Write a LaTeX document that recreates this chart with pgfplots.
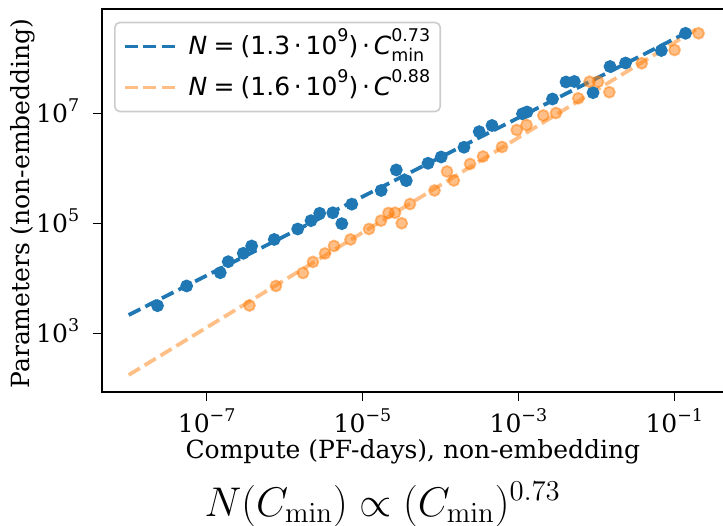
\documentclass[border=0pt]{standalone}
\usepackage[no-math]{fontspec}
\usepackage{pgfplots}
\pgfplotsset{compat=1.18}
\setmainfont{DejaVu Serif}
\newfontfamily\dvs{DejaVu Sans}
\definecolor{mblue}{HTML}{1F77B4}
\definecolor{morange}{HTML}{FF7F0E}
\newcommand{\tl}[1]{10\raisebox{0.45em}{\fontsize{8.75}{9}\selectfont #1}}
\newcommand{\sups}[1]{\raisebox{0.5em}{\fontsize{8.75}{9}\selectfont #1}}
\newcommand{\supsub}[2]{\raisebox{-0.3em}{\rlap{\fontsize{8.75}{9}\selectfont #2}}\raisebox{0.5em}{\fontsize{8.75}{9}\selectfont #1}}
\pgfplotstableread{
C N
2.34e-8 3.20e3
5.54e-8 7.31e3
1.494e-7 1.274e4
1.89e-7 2.02e4
2.95e-7 2.87e4
3.78e-7 3.90e4
7.37e-7 5.12e4
1.471e-6 7.94e4
2.18e-6 1.125e5
2.82e-6 1.532e5
4.15e-6 1.566e5
5.42e-6 9.92e4
7.28e-6 2.244e5
1.733e-5 3.98e5
2.71e-5 9.40e5
3.64e-5 6.00e5
6.92e-5 1.243e6
1.021e-4 1.618e6
2.002e-4 2.43e6
3.138e-4 4.67e6
4.58e-4 6.05e6
1.127e-3 9.87e6
1.288e-3 1.065e7
2.735e-3 1.835e7
4.08e-3 3.74e7
5.21e-3 3.82e7
9.06e-3 2.39e7
1.496e-2 7.15e7
2.366e-2 8.28e7
6.82e-2 1.397e8
0.1393 2.87e8
}\blue
\pgfplotstableread{
C N
3.54e-7 3.23e3
7.74e-7 7.31e3
1.72e-6 1.259e4
2.31e-6 2.0e4
3.30e-6 2.85e4
4.30e-6 3.90e4
7.00e-6 5.12e4
1.21e-5 7.94e4
1.724e-5 1.125e5
2.15e-5 1.552e5
2.61e-5 1.57e5
3.18e-5 1.009e5
4.06e-5 2.26e5
8.38e-5 3.98e5
1.212e-4 8.82e5
1.482e-4 6.05e5
2.392e-4 1.208e6
3.51e-4 1.652e6
6.15e-4 2.46e6
9.51e-4 5.01e6
1.27e-3 6.18e6
2.084e-3 9.2e6
3.03e-3 1.021e7
5.86e-3 1.89e7
8.17e-3 3.78e7
1.05e-2 3.78e7
1.466e-2 2.44e7
3.82e-2 8.18e7
0.1007 1.427e8
0.2047 2.87e8
}\orange
\begin{document}
\begin{tikzpicture}
\begin{axis}[
  name=ax, at={(0pt,0pt)}, anchor=south west,
  scale only axis, width=312.65pt, height=191.5pt,
  xmode=log, ymode=log,
  xmin=4.5e-9, xmax=0.474, ymin=86.3, ymax=7.94e8,
  xtick={1e-7,1e-5,1e-3,1e-1},
  xticklabels={\tl{−7},\tl{−5},\tl{−3},\tl{−1}},
  ytick={1e3,1e5,1e7},
  yticklabels={\tl{3},\tl{5},\tl{7}},
  xminorticks=false, yminorticks=false,
  tick pos=left, tick align=outside,
  major tick length=4.375pt,
  every tick/.style={black, line width=0.8pt},
  axis line style={black, line width=1pt},
  xticklabel style={font=\fontsize{12.5}{15}\selectfont, anchor=base, yshift=-16pt},
  yticklabel style={font=\fontsize{12.5}{15}\selectfont, anchor=base east, inner sep=0pt, yshift=-4.56pt, xshift=-6.7pt},
  legend style={at={(0.0197,0.9668)}, anchor=north west, draw=black!20, line width=0.8pt,
    rounded corners=2.5pt, fill=white, fill opacity=0.8, text opacity=1, draw opacity=1,
    font=\dvs\fontsize{12.5}{15}\selectfont, inner xsep=4pt, inner ysep=1.75pt, row sep=0pt, column sep=5pt,
    nodes={inner sep=1pt, text height=13pt, text depth=5.5pt}},
  legend cell align=left,
  legend image code/.code={\draw[#1] (0pt,0pt) -- (25pt,0pt);},
]
\addplot[only marks, mark=*, mark size=2.75pt, mark options={fill=mblue, draw=mblue, line width=0.9pt}, forget plot] table[x=C,y=N]{\blue};
\addplot[only marks, mark=*, mark size=2.75pt, mark options={fill=morange, draw=morange, fill opacity=0.5, draw opacity=0.5, line width=0.9pt}, forget plot] table[x=C,y=N]{\orange};
\addplot[mblue, line width=1.875pt, dash pattern=on 6.5pt off 2.8pt] coordinates {(1e-8,2.17e3) (0.1414,2.91e8)};
\addlegendentry{\textit{N}\hspace{0.25em}=\hspace{0.25em}(1.3\hspace{0.15em}·\hspace{0.15em}10\sups{9})\hspace{0.15em}·\hspace{0.15em}\textit{C}\supsub{0.73}{min}\hspace{4pt}}
\addplot[morange, draw opacity=0.5, line width=1.875pt, dash pattern=on 6.5pt off 2.8pt] coordinates {(1e-8,176) (0.2138,3.74e8)};
\addlegendentry{\textit{N}\hspace{0.25em}=\hspace{0.25em}(1.6\hspace{0.15em}·\hspace{0.15em}10\sups{9})\hspace{0.15em}·\hspace{0.15em}\textit{C}\sups{0.88}}
\end{axis}
\node[rotate=90, anchor=base, font=\fontsize{12.5}{15}\selectfont] at (-36.35pt,94.25pt) {Parameters (non-embedding)};
\node[anchor=base, font=\fontsize{12.5}{15}\selectfont] at (155.6pt,-33pt) {Compute (PF-days), non-embedding};
\node[anchor=base] at (140.5pt,-62pt) {\fontsize{20}{24}\selectfont $N(C_{\min})\propto(C_{\min})^{0.73}$};
\pgfresetboundingbox
\useasboundingbox (-50.85pt,-66.5pt) rectangle (310.65pt,196pt);
\end{tikzpicture}
\end{document}
